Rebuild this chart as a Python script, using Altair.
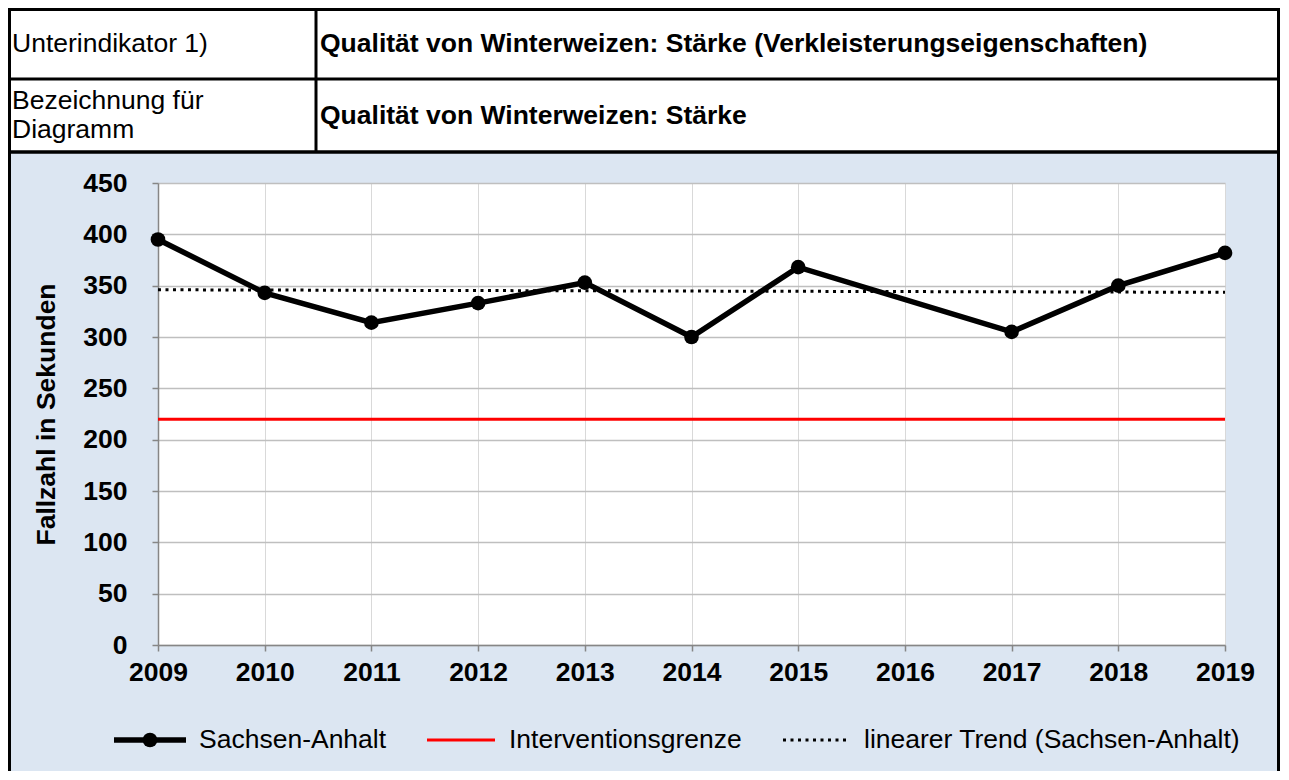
import altair as alt
import pandas as pd

# ---------------- data ----------------
years = [2009, 2010, 2011, 2012, 2013, 2014, 2015, 2017, 2018, 2019]
fallzahl = [395, 343, 314, 333, 353, 300, 368, 305, 350, 382]
trend_years = [2009, 2019]
trend_values = [346, 343.5]
grenze_years = [2009, 2019]
grenze_values = [220, 220]
x_ticks = [2009, 2010, 2011, 2012, 2013, 2014, 2015, 2016, 2017, 2018, 2019]
y_ticks = [0, 50, 100, 150, 200, 250, 300, 350, 400, 450]
legend_labels = ["Sachsen-Anhalt", "Interventionsgrenze", "linearer Trend (Sachsen-Anhalt)"]
header_left = ["Unterindikator 1)", "Bezeichnung für", "Diagramm"]
header_right = ["Qualität von Winterweizen: Stärke (Verkleisterungseigenschaften)",
                "Qualität von Winterweizen: Stärke"]
y_title = "Fallzahl in Sekunden"

FONT = "Liberation Sans"
FS = 26.5
df_main = pd.DataFrame({"year": years, "value": fallzahl})
df_trend = pd.DataFrame({"year": trend_years, "value": trend_values})
df_grenze = pd.DataFrame({"year": grenze_years, "value": grenze_values})
dummy = pd.DataFrame({"d": [0]})

x_enc = alt.X("year:Q",
              scale=alt.Scale(domain=[2009, 2019], nice=False, zero=False),
              axis=alt.Axis(values=x_ticks, format="d", title=None,
                            labelFont=FONT, labelFontSize=FS, labelFontWeight="bold",
                            labelColor="black", labelPadding=8, labelFlush=False,
                            labelOverlap=False, grid=True, gridColor="#d9d9d9",
                            gridWidth=1, domainColor="#868686", domainWidth=1.5,
                            tickColor="#868686", tickSize=6, tickWidth=1.5))
y_enc = alt.Y("value:Q",
              scale=alt.Scale(domain=[0, 450], nice=False),
              axis=alt.Axis(values=y_ticks, title=y_title,
                            titleFont=FONT, titleFontSize=FS, titleFontWeight="bold",
                            titleColor="black", titleAngle=270, titleX=-112, titleY=231,
                            titleAlign="center", titleBaseline="middle",
                            labelFont=FONT, labelFontSize=FS, labelFontWeight="bold",
                            labelColor="black", labelPadding=25, grid=True,
                            gridColor="#bfbfbf", gridWidth=1.5, domainColor="#868686",
                            domainWidth=1.5, tickColor="#868686", tickSize=6, tickWidth=1.5))

grenze = alt.Chart(df_grenze).mark_line(color="#ff0000", strokeWidth=3).encode(x=x_enc, y=y_enc)
trend = alt.Chart(df_trend).mark_line(color="black", strokeWidth=3, strokeDash=[3, 4.5]).encode(x=x_enc, y=y_enc)
line = alt.Chart(df_main).mark_line(color="black", strokeWidth=5.5).encode(x=x_enc, y=y_enc)
points = alt.Chart(df_main).mark_point(filled=True, shape="circle", size=215, color="black",
                                       opacity=1).encode(x=x_enc, y=y_enc)

# ---------------- header table ----------------
def hrule(x1, x2, y, w=3, color="black", dash=None):
    kw = dict(color=color, strokeWidth=w)
    if dash is not None:
        kw["strokeDash"] = dash
    return alt.Chart(dummy).mark_rule(**kw).encode(
        x=alt.value(x1), x2=alt.value(x2), y=alt.value(y))

def vrule(x, y1, y2, w=3):
    return alt.Chart(dummy).mark_rule(color="black", strokeWidth=w).encode(
        x=alt.value(x), y=alt.value(y1), y2=alt.value(y2))

def txt(s, x, y, bold=False):
    return alt.Chart(dummy).mark_text(text=s, align="left", baseline="middle", font=FONT,
                                      fontSize=FS, fontWeight="bold" if bold else "normal",
                                      color="black").encode(x=alt.value(x), y=alt.value(y))

header_bg = alt.Chart(dummy).mark_rect(fill="white", color="white").encode(
    x=alt.value(-150), x2=alt.value(1122), y=alt.value(-175), y2=alt.value(-31))

decor = [
    header_bg,
    hrule(-150, 1122, -173.5),
    hrule(-150, 1122, -104),
    hrule(-150, 1122, -31, w=3.5),
    vrule(158, -175, -31),
    vrule(-148.5, -175, 588),
    vrule(1120.5, -175, 588),
    txt(header_left[0], -146, -139),
    txt(header_right[0], 162, -139, bold=True),
    txt(header_left[1], -146, -82),
    txt(header_left[2], -146, -53),
    txt(header_right[1], 162, -67, bold=True),
]

# ---------------- legend ----------------
leg_y = 557
legend = [
    hrule(-44, 28, leg_y, w=5.5),
    alt.Chart(dummy).mark_point(filled=True, shape="circle", size=215, color="black",
                                opacity=1).encode(x=alt.value(-8), y=alt.value(leg_y)),
    txt(legend_labels[0], 41, leg_y),
    hrule(269, 337, leg_y, w=3, color="#ff0000"),
    txt(legend_labels[1], 351, leg_y),
    hrule(625, 692, leg_y, w=3, dash=[3, 4.5]),
    txt(legend_labels[2], 706, leg_y),
]

chart = alt.layer(grenze, trend, line, points, *decor, *legend).properties(
    width=1067, height=462,
    autosize=alt.AutoSizeParams(type="none"),
    padding={"left": 150, "top": 175, "right": 55, "bottom": 126},
    background="#dce6f2",
).configure_view(fill="white", strokeWidth=0)

chart.save("out.html", embed_options={"renderer": "svg", "actions": False})
